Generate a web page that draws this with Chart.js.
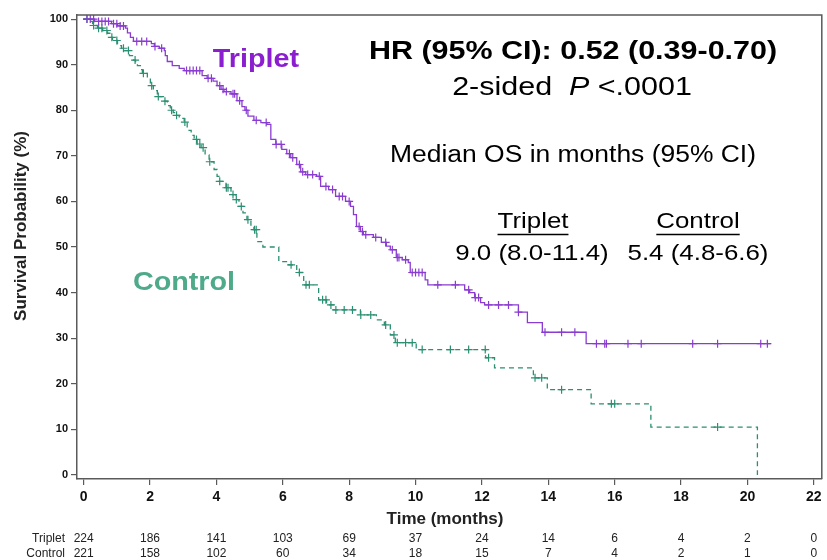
<!DOCTYPE html>
<html>
<head>
<meta charset="utf-8">
<script src="https://cdn.jsdelivr.net/npm/chart.js@4.4.1/dist/chart.umd.min.js"></script>
<style>
  html, body { margin: 0; padding: 0; background: #fff; }
</style>
</head>
<body>
<canvas id="km" width="827" height="560"></canvas>
<script>
const xTicks = [0, 2, 4, 6, 8, 10, 12, 14, 16, 18, 20, 22];
const yTicks = [0, 10, 20, 30, 40, 50, 60, 70, 80, 90, 100];

// Kaplan-Meier steps (months, % surviving)
const tripletTime = [0, 0.33, 0.84, 1.02, 1.26, 1.32, 1.41, 1.5, 2.04, 2.13, 2.28, 2.43, 2.46, 2.52, 2.67, 2.88, 3.03,
  3.57, 3.72, 3.9, 4.02, 4.14, 4.23, 4.44, 4.62, 4.77, 4.86, 4.95, 5.13, 5.34, 5.52, 5.64, 5.79, 5.97, 6.12, 6.24,
  6.42, 6.54, 6.69, 7.02, 7.14, 7.38, 7.59, 7.89, 8.04, 8.13, 8.22, 8.34, 8.43, 8.73, 8.97, 9.12, 9.24, 9.42, 9.6,
  9.78, 9.84, 10.29, 10.37, 11.48, 11.63, 11.78, 11.96, 12.08, 13.1, 13.37, 13.82, 15.14, 20.7];
const tripletSurv = [100, 99.5, 99, 98.5, 98, 97, 96, 95.1, 94.6, 94, 93.6, 93.1, 92, 90.7, 89.8, 89.2, 88.7,
  87.6, 87, 86.4, 85.4, 84.6, 84.1, 83.6, 82.1, 80.8, 80, 78.7, 77.8, 77.3, 76.9, 73.6, 72.5, 71.4, 70.5, 69.6,
  68.1, 66.5, 65.9, 65.5, 63.3, 62.6, 61.1, 60, 58.9, 57.1, 54.5, 53.4, 52.7, 52.1, 51, 50.2, 49.4, 47.7, 47.2,
  46.6, 44.4, 42.8, 41.7, 40.6, 40, 38.9, 37.8, 37.3, 35.7, 33.4, 31.3, 28.8, 28.8];
const tripletCensor = [0.1, 0.2, 0.3, 0.45, 0.55, 0.65, 0.75, 0.9, 1.0, 1.1, 1.2, 1.6, 1.75, 1.9, 2.15, 2.35,
  3.1, 3.2, 3.3, 3.4, 3.5, 3.75, 3.85, 4.1, 4.2, 4.3, 4.5, 4.55, 4.7, 4.9, 5.2, 5.5, 5.8, 5.95, 6.2, 6.3, 6.5,
  6.6, 6.75, 6.9, 7.1, 7.3, 7.5, 7.7, 7.8, 8.0, 8.3, 8.4, 8.5, 8.8, 9.1, 9.3, 9.45, 9.5, 9.7, 9.9, 10.0, 10.1,
  10.2, 10.67, 11.2, 11.6, 11.8, 11.9, 12.2, 12.5, 12.8, 13.1, 13.9, 14.4, 14.8, 15.45, 15.7, 15.75, 16.4, 16.8,
  18.35, 19.1, 20.4, 20.6];

const controlTime = [0, 0.12, 0.27, 0.42, 0.57, 0.72, 0.81, 0.87, 1.02, 1.14, 1.23, 1.38, 1.5, 1.56, 1.62, 1.71,
  1.77, 1.92, 2.01, 2.1, 2.22, 2.43, 2.52, 2.61, 2.7, 2.76, 2.88, 3.03, 3.12, 3.24, 3.33, 3.42, 3.54, 3.66, 3.78,
  3.93, 4.02, 4.08, 4.29, 4.44, 4.59, 4.68, 4.8, 4.92, 5.04, 5.13, 5.22, 5.4, 5.88, 6.18, 6.42, 6.63, 7.08, 7.32,
  7.53, 8.34, 8.82, 9.06, 9.24, 9.39, 10.02, 12.11, 12.38, 13.55, 13.97, 15.29, 17.09, 20.3];
const controlSurv = [100, 99.5, 98.6, 98, 97.5, 96.9, 96, 95.3, 94.2, 93.6, 93.1, 92, 91, 90.7, 89.8, 88.9,
  88.1, 87, 85.4, 84.3, 83, 82, 81, 80, 79.5, 78.9, 78.2, 77.4, 75.6, 74.5, 73.6, 72.6, 71.8, 70.2, 68.7,
  67, 65.5, 64.4, 63, 61.5, 60.4, 58.9, 57.5, 56, 54.8, 53.8, 51.2, 50, 46.8, 46.1, 44.4, 41.7, 38.4, 37.3,
  36.2, 35.1, 34.0, 32.9, 30.7, 29.0, 27.5, 25.7, 23.5, 21.3, 18.7, 15.6, 10.5, 0];
const controlCensor = [0.1, 0.3, 0.45, 0.55, 0.7, 0.85, 1.0, 1.2, 1.35, 1.55, 1.8, 2.05, 2.25, 2.45, 2.65, 2.8,
  3.05, 3.4, 3.5, 3.6, 3.8, 4.1, 4.3, 4.35, 4.5, 4.6, 4.75, 4.95, 5.15, 5.2, 6.25, 6.5, 6.7, 6.8, 7.2, 7.3, 7.45,
  7.6, 7.85, 8.1, 8.35, 8.65, 9.1, 9.35, 9.45, 9.7, 9.9, 10.2, 11.05, 11.6, 12.1, 12.2, 13.6, 13.8, 14.4, 15.9,
  16.0, 19.1];

const atRiskTriplet = [224, 186, 141, 103, 69, 37, 24, 14, 6, 4, 2, 0];
const atRiskControl = [221, 158, 102, 60, 34, 18, 15, 7, 4, 2, 1, 0];

const PURPLE = '#8a3cd0';
const PURPLE_TEXT = '#8b1fcf';
const TEAL = '#2b8f72';
const TEAL_TEXT = '#4faa8a';
const FRAME = '#5a5a5a';
const SANS = "'Liberation Sans', Arial, sans-serif";
const NARROW = "'Liberation Sans Narrow', 'Arial Narrow', 'Liberation Sans', sans-serif";
const SX = 1.15; // the slide text is a little wider than the font

function survAt(times, survs, t) {
    let s = survs[0];
    for (let i = 0; i < times.length; i++) {
        if (times[i] <= t) s = survs[i];
    }
    return s;
}

function text(ctx, str, x, y, font, color, align) {
    ctx.save();
    ctx.translate(x, y);
    ctx.scale(SX, 1);
    ctx.font = font;
    ctx.fillStyle = color;
    ctx.textAlign = align || 'center';
    ctx.textBaseline = 'middle';
    ctx.fillText(str, 0, 0);
    ctx.restore();
}

function underlined(ctx, str, x, y, font) {
    text(ctx, str, x, y, font, '#000');
    ctx.save();
    ctx.font = font;
    const w = ctx.measureText(str).width * SX;
    ctx.strokeStyle = '#000';
    ctx.lineWidth = 1.3;
    ctx.beginPath();
    ctx.moveTo(x - w / 2, y + 12.5);
    ctx.lineTo(x + w / 2, y + 12.5);
    ctx.stroke();
    ctx.restore();
}

const annotations = {
    id: 'annotations',

    afterDraw(chart) {
        const { ctx, chartArea: { left, top, right, bottom }, scales: { x } } = chart;

        // rest of the frame
        ctx.save();
        ctx.strokeStyle = FRAME;
        ctx.lineWidth = 1.5;
        ctx.beginPath();
        ctx.moveTo(left, top);
        ctx.lineTo(right, top);
        ctx.lineTo(right, bottom);
        ctx.stroke();
        ctx.restore();

        // axis titles
        ctx.save();
        ctx.translate(21, 226);
        ctx.rotate(-Math.PI / 2);
        ctx.font = 'bold 17px ' + SANS;
        ctx.fillStyle = '#222';
        ctx.textAlign = 'center';
        ctx.textBaseline = 'middle';
        ctx.fillText('Survival Probability (%)', 0, 0);
        ctx.restore();

        ctx.save();
        ctx.font = 'bold 17px ' + NARROW;
        ctx.fillStyle = '#222';
        ctx.textAlign = 'center';
        ctx.textBaseline = 'middle';
        ctx.fillText('Time (months)', 445, 519);
        ctx.restore();

        // numbers at risk
        ctx.save();
        ctx.font = '12px ' + NARROW;
        ctx.fillStyle = '#222';
        ctx.textBaseline = 'middle';
        ctx.textAlign = 'right';
        ctx.fillText('Triplet', 65, 539);
        ctx.fillText('Control', 65, 554);
        ctx.textAlign = 'center';
        xTicks.forEach((t, i) => {
            const px = x.getPixelForValue(t);
            ctx.fillText(String(atRiskTriplet[i]), px, 539);
            ctx.fillText(String(atRiskControl[i]), px, 554);
        });
        ctx.restore();

        // curve labels
        text(ctx, 'Triplet', 256, 60, 'bold 25px ' + SANS, PURPLE_TEXT);
        text(ctx, 'Control', 184, 283, 'bold 25px ' + SANS, TEAL_TEXT);

        // statistics block
        text(ctx, 'HR (95% CI): 0.52 (0.39-0.70)', 573, 52, 'bold 26.5px ' + SANS, '#000');

        ctx.save();
        const parts = [
            ['2-sided  ', '26.5px ' + SANS],
            ['P', 'italic 26.5px ' + SANS],
            [' <.0001', '26.5px ' + SANS]
        ];
        let total = 0;
        parts.forEach(p => { ctx.font = p[1]; total += ctx.measureText(p[0]).width * SX; });
        let cx = 572 - total / 2;
        parts.forEach(p => {
            ctx.font = p[1];
            const w = ctx.measureText(p[0]).width * SX;
            text(ctx, p[0], cx, 88, p[1], '#000', 'left');
            cx += w;
        });
        ctx.restore();

        text(ctx, 'Median OS in months (95% CI)', 573, 156, '23px ' + SANS, '#000');
        underlined(ctx, 'Triplet', 533, 222, '22.5px ' + SANS);
        underlined(ctx, 'Control', 698, 222, '22.5px ' + SANS);
        text(ctx, '9.0 (8.0-11.4)', 532, 254, '22.5px ' + SANS, '#000');
        text(ctx, '5.4 (4.8-6.6)', 698, 254, '22.5px ' + SANS, '#000');
    }
};

new Chart(document.getElementById('km'), {
    type: 'scatter',
    plugins: [annotations],
    data: {
        datasets: [
            {
                label: 'Triplet',
                showLine: true,
                stepped: true,
                data: tripletTime.map((t, i) => ({ x: t, y: tripletSurv[i] })),
                borderColor: PURPLE,
                borderWidth: 1.3,
                pointRadius: 0
            },
            {
                label: 'Control',
                showLine: true,
                stepped: true,
                data: controlTime.map((t, i) => ({ x: t, y: controlSurv[i] })),
                borderColor: TEAL,
                borderWidth: 1.3,
                borderDash: [5, 4],
                pointRadius: 0
            },
            {
                label: 'Triplet censored',
                data: tripletCensor.map(t => ({ x: t, y: survAt(tripletTime, tripletSurv, t) })),
                pointStyle: 'cross',
                pointRadius: 4,
                borderColor: PURPLE,
                borderWidth: 1.2
            },
            {
                label: 'Control censored',
                data: controlCensor.map(t => ({ x: t, y: survAt(controlTime, controlSurv, t) })),
                pointStyle: 'cross',
                pointRadius: 4,
                borderColor: TEAL,
                borderWidth: 1.2
            }
        ]
    },
    options: {
        responsive: false,
        animation: false,
        layout: { padding: { top: 15, right: 2, left: 0, bottom: 0 } },
        plugins: {
            legend: { display: false },
            tooltip: { enabled: false }
        },
        scales: {
            x: {
                type: 'linear',
                min: -0.2,
                max: 22.24,
                afterBuildTicks: s => { s.ticks = xTicks.map(v => ({ value: v })); },
                afterFit: s => { s.height = 81; },
                grid: { drawOnChartArea: false, drawTicks: true, tickLength: 6, color: FRAME, lineWidth: 1.2 },
                border: { display: true, color: FRAME, width: 1.5 },
                ticks: {
                    autoSkip: false,
                    maxRotation: 0,
                    padding: 4,
                    color: '#111',
                    font: { family: NARROW, size: 14, weight: 'bold' }
                }
            },
            y: {
                min: -0.9,
                max: 100.9,
                afterBuildTicks: s => { s.ticks = yTicks.map(v => ({ value: v })); },
                afterFit: s => { s.width = 77; },
                grid: { drawOnChartArea: false, drawTicks: true, tickLength: 6, color: FRAME, lineWidth: 1.2 },
                border: { display: true, color: FRAME, width: 1.5 },
                ticks: {
                    padding: 3,
                    color: '#111',
                    font: { family: SANS, size: 11, weight: 'bold' }
                }
            }
        }
    }
});
</script>
</body>
</html>
